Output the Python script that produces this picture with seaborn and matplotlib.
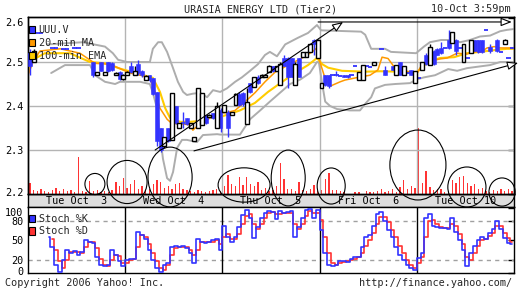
import numpy as np
import pandas as pd
import matplotlib
matplotlib.use("Agg")
import matplotlib.pyplot as plt
import matplotlib.transforms as mtransforms
import seaborn as sns
from matplotlib.patches import Ellipse, Patch

nan = np.nan

# ---------------- data (15-min bars, 26 per session) ----------------
days = ["Tue Oct  3", "Wed Oct  4", "Thu Oct  5", "Fri Oct  6", "Tue Oct 10"]
bars_per_day = 26

open_ = [2.520, 2.500, 2.565, 2.565, nan, nan, 2.532, 2.532, nan, 2.530, 2.530, nan, 2.532, 2.532, nan, nan,
         nan, 2.500, 2.470, 2.500, 2.470, 2.500, 2.497, 2.470, 2.477, 2.462,
         2.470, 2.490, 2.470, 2.495, 2.480, 2.460, 2.470, 2.464, 2.432, 2.350, 2.310, 2.350, 2.323, 2.400, 2.350, 2.362,
         2.373, 2.350, 2.320, 2.350, 2.357, 2.380, 2.375, 2.385, 2.350, 2.390,
         2.386, 2.386, 2.380, 2.402, 2.428, 2.430, 2.360, 2.452, 2.443, 2.466, 2.465, 2.465, 2.477, 2.490, 2.480, 2.448,
         2.510, 2.510, 2.510, 2.448, 2.510, 2.511, 2.512, 2.523, 2.550, 2.510,
         2.440, 2.470, 2.470, 2.470, 2.470, 2.468, 2.470, 2.470, 2.470, 2.490, 2.460, 2.460, 2.490, 2.489, 2.493, nan,
         2.530, 2.482, nan, 2.490, 2.470, 2.500, 2.470, 2.475, 2.482, 2.452,
         2.463, 2.482, 2.515, 2.493, 2.525, 2.530, 2.532, 2.532, 2.550, 2.543, 2.550, 2.532, 2.500, 2.510, 2.520, 2.550,
         2.550, 2.550, 2.573, 2.535, nan, 2.550, 2.522, 2.541, 2.510, 2.532]
high = [2.530, 2.530, 2.565, 2.565, nan, nan, 2.532, 2.532, nan, 2.530, 2.530, nan, 2.532, 2.532, nan, nan,
        nan, 2.500, 2.478, 2.500, 2.478, 2.500, 2.500, 2.477, 2.480, 2.472,
        2.480, 2.500, 2.490, 2.505, 2.482, 2.470, 2.470, 2.464, 2.432, 2.350, 2.330, 2.350, 2.430, 2.400, 2.362, 2.386,
        2.373, 2.362, 2.330, 2.440, 2.430, 2.380, 2.382, 2.385, 2.410, 2.395,
        2.402, 2.390, 2.386, 2.430, 2.432, 2.432, 2.440, 2.452, 2.466, 2.470, 2.472, 2.472, 2.493, 2.492, 2.492, 2.500,
        2.515, 2.512, 2.510, 2.500, 2.510, 2.523, 2.523, 2.540, 2.552, 2.552,
        2.452, 2.470, 2.470, 2.470, 2.480, 2.468, 2.470, 2.470, 2.470, 2.490, 2.477, 2.493, 2.490, 2.489, 2.500, nan,
        2.530, 2.490, nan, 2.492, 2.493, 2.500, 2.490, 2.475, 2.482, 2.480,
        2.463, 2.500, 2.520, 2.540, 2.528, 2.532, 2.545, 2.532, 2.573, 2.568, 2.552, 2.532, 2.540, 2.510, 2.550, 2.550,
        2.550, 2.550, 2.573, 2.540, nan, 2.552, 2.522, 2.552, 2.510, 2.532]
low = [2.470, 2.500, 2.565, 2.565, nan, nan, 2.532, 2.532, nan, 2.530, 2.530, nan, 2.532, 2.532, nan, nan,
       nan, 2.465, 2.470, 2.480, 2.470, 2.478, 2.480, 2.470, 2.460, 2.460,
       2.470, 2.475, 2.470, 2.470, 2.465, 2.460, 2.455, 2.425, 2.310, 2.295, 2.305, 2.318, 2.323, 2.360, 2.350, 2.350,
       2.357, 2.350, 2.320, 2.350, 2.357, 2.360, 2.375, 2.370, 2.350, 2.340,
       2.386, 2.330, 2.380, 2.402, 2.400, 2.400, 2.360, 2.430, 2.443, 2.450, 2.465, 2.465, 2.477, 2.478, 2.480, 2.448,
       2.490, 2.440, 2.465, 2.448, 2.465, 2.511, 2.512, 2.523, 2.515, 2.510,
       2.440, 2.445, 2.440, 2.470, 2.468, 2.468, 2.465, 2.463, 2.470, 2.490, 2.460, 2.460, 2.490, 2.489, 2.493, nan,
       2.530, 2.470, nan, 2.482, 2.470, 2.470, 2.470, 2.475, 2.470, 2.452,
       2.463, 2.482, 2.493, 2.493, 2.493, 2.515, 2.518, 2.532, 2.530, 2.543, 2.515, 2.532, 2.500, 2.510, 2.520, 2.524,
       2.520, 2.520, 2.573, 2.520, nan, 2.522, 2.522, 2.541, 2.510, 2.532]
close = [2.490, 2.525, 2.565, 2.565, nan, nan, 2.532, 2.532, nan, 2.530, 2.530, nan, 2.532, 2.532, nan, nan,
         nan, 2.470, 2.477, 2.480, 2.477, 2.480, 2.482, 2.476, 2.462, 2.470,
         2.478, 2.478, 2.480, 2.475, 2.470, 2.468, 2.458, 2.428, 2.320, 2.300, 2.330, 2.320, 2.430, 2.362, 2.361, 2.362,
         2.358, 2.361, 2.330, 2.440, 2.430, 2.362, 2.380, 2.372, 2.400, 2.350,
         2.402, 2.350, 2.386, 2.428, 2.402, 2.405, 2.410, 2.432, 2.466, 2.452, 2.470, 2.470, 2.492, 2.480, 2.490, 2.495,
         2.492, 2.465, 2.466, 2.495, 2.466, 2.522, 2.522, 2.540, 2.540, 2.550,
         2.452, 2.448, 2.445, 2.470, 2.470, 2.468, 2.466, 2.465, 2.470, 2.490, 2.477, 2.493, 2.490, 2.489, 2.500, nan,
         2.530, 2.470, nan, 2.482, 2.493, 2.470, 2.490, 2.475, 2.470, 2.480,
         2.463, 2.500, 2.495, 2.535, 2.495, 2.516, 2.520, 2.532, 2.532, 2.568, 2.524, 2.532, 2.540, 2.510, 2.550, 2.525,
         2.522, 2.522, 2.573, 2.525, nan, 2.524, 2.522, 2.550, 2.510, 2.532]
volume = [11, 4, 3, 5, 3, 2, 4, 6, 3, 5, 3, 4, 2, 37, 3, 2, 13, 3, 4, 2, 3, 2, 4, 12, 8, 16,
          6, 10, 14, 5, 8, 4, 5, 10, 14, 12, 6, 8, 5, 10, 11, 5, 4, 3, 2, 4, 3, 2, 3, 4, 5, 3,
          8, 19, 10, 8, 17, 9, 17, 10, 8, 12, 4, 6, 3, 4, 8, 31, 15, 5, 5, 3, 12, 4, 3, 5, 9, 3,
          4, 15, 21, 4, 4, 3, 2, 0, 0, 2, 2, 0, 3, 2, 2, 3, 5, 2, 3, 5, 2, 7, 14, 5, 8, 6,
          66, 11, 23, 7, 4, 5, 5, 2, 3, 14, 11, 17, 18, 11, 8, 10, 5, 6, 3, 2, 4, 3, 5, 3, 5, 3]

ma_x = [0, 1.3, 3.2, 8.6, 13.9, 17.9, 21.9, 24.6, 27.3, 30.0, 32.6, 34.0, 35.3, 37.2, 38.5, 40.7, 43.3, 44.1, 46.0,
        47.9, 49.5, 51.4, 53.2, 55.4, 58.1, 60.7, 63.4, 66.1, 69.6, 73.3, 76.0, 77.3, 78.1, 79.2, 80.8, 83.5, 84.8,
        88.8, 91.5, 93.6, 94.7, 96.3, 98.2, 100.1, 102.2, 103.8, 105.1, 106.7, 108.6, 110.2, 112.1, 114.8, 117.4,
        119.3, 121.2, 122.8, 124.7, 126.3, 128.1, 130.0]
ma_y = [2.47, 2.50, 2.525, 2.53, 2.52, 2.497, 2.495, 2.485, 2.475, 2.47, 2.464, 2.432, 2.395, 2.37, 2.36, 2.36, 2.357,
        2.345, 2.36, 2.368, 2.38, 2.384, 2.385, 2.39, 2.41, 2.43, 2.455, 2.477, 2.493, 2.509, 2.523, 2.532, 2.50, 2.47,
        2.445, 2.455, 2.459, 2.466, 2.47, 2.482, 2.511, 2.508, 2.486, 2.48, 2.478, 2.47, 2.49, 2.504, 2.504, 2.507,
        2.509, 2.52, 2.518, 2.523, 2.523, 2.532, 2.535, 2.532, 2.532, 2.532]
ema_x = [0, 1.3, 4.5, 11.2, 16.6, 20.6, 24.6, 30.0, 33.4, 35.3, 36.7, 38.0, 40.7, 43.3, 46.0, 48.7, 51.4, 53.2, 56.7,
         60.7, 64.2, 68.0, 71.4, 74.9, 77.3, 78.7, 80.3, 84.0, 90.2, 94.2, 99.5, 103.8, 107.0, 110.2, 114.0, 117.4,
         120.9, 124.7, 128.1, 130.0]
ema_y = [2.475, 2.505, 2.52, 2.52, 2.50, 2.497, 2.485, 2.472, 2.464, 2.432, 2.395, 2.373, 2.364, 2.364, 2.366, 2.373,
         2.375, 2.38, 2.39, 2.407, 2.432, 2.455, 2.475, 2.493, 2.509, 2.495, 2.487, 2.48, 2.478, 2.479, 2.478, 2.475,
         2.50, 2.509, 2.511, 2.52, 2.523, 2.527, 2.53, 2.53]
up_x = [5.1, 14.7, 20.6, 22.7, 24.1, 26.5, 32.6, 33.4, 34.8, 35.8, 37.2, 38.8, 40.1, 41.5, 42.5, 44.1, 46.0, 47.9,
        49.5, 51.4, 53.2, 55.4, 57.2, 59.4, 61.5, 63.4, 64.7, 66.6, 68.8, 72.2, 74.9, 77.3, 78.4, 89.1, 90.2, 91.8,
        95.5, 97.1, 103.8, 105.9, 107.5, 110.5, 112.9, 115.6, 118.2, 120.9, 123.6, 126.3, 128.1, 130.0]
up_y = [2.54, 2.545, 2.535, 2.52, 2.505, 2.50, 2.50, 2.53, 2.545, 2.545, 2.523, 2.486, 2.455, 2.432, 2.425, 2.428,
        2.43, 2.42, 2.436, 2.432, 2.44, 2.455, 2.465, 2.48, 2.495, 2.516, 2.523, 2.513, 2.54, 2.555, 2.566, 2.584,
        2.572, 2.569, 2.562, 2.53, 2.53, 2.523, 2.52, 2.535, 2.545, 2.55, 2.55, 2.545, 2.55, 2.558, 2.56, 2.57,
        2.573, 2.575]
lo_x = [6.2, 9.9, 16.6, 17.9, 20.6, 23.3, 24.6, 30.0, 32.6, 33.4, 34.5, 35.3, 36.1, 37.2, 38.0, 38.8, 39.9, 41.2,
        42.5, 45.2, 46.8, 50.6, 51.4, 56.7, 59.4, 62.1, 64.7, 67.4, 70.1, 72.8, 75.4, 77.3, 77.8, 78.7, 79.5, 80.8,
        82.7, 86.1, 88.8, 90.2, 91.8, 92.8, 95.5, 98.2, 102.2, 103.8, 105.9, 108.9, 112.4, 114.8, 117.4, 120.9,
        123.6, 126.3, 130.0]
lo_y = [2.475, 2.493, 2.493, 2.47, 2.455, 2.45, 2.455, 2.455, 2.45, 2.43, 2.395, 2.334, 2.28, 2.236, 2.23, 2.25,
        2.305, 2.323, 2.323, 2.318, 2.334, 2.336, 2.335, 2.335, 2.37, 2.39, 2.41, 2.43, 2.45, 2.46, 2.475, 2.50,
        2.50, 2.45, 2.41, 2.40, 2.393, 2.39, 2.39, 2.405, 2.42, 2.44, 2.448, 2.45, 2.452, 2.46, 2.465, 2.47, 2.484,
        2.48, 2.486, 2.49, 2.493, 2.50, 2.50]

stoch_k = [nan, nan, nan, nan, nan, 56, 40, 12, 2, 20, 35, 30, 34, 28, 33, 51, 48, 46, 25, 12, 10, 12, 35, 28, 18, 10,
           20, 22, 22, 63, 58, 52, 35, 20, 8, 2, 12, 15, 40, 42, 40, 42, 38, 30, 16, 53, 48, 46, 48, 50, 52, 35,
           72, 55, 48, 55, 70, 89, 97, 85, 54, 70, 85, 92, 96, 94, 83, 95, 92, 94, 95, 56, 71, 85, 97, 99, 85, 97,
           66, 30, 12, 10, 12, 18, 18, 17, 22, 25, 25, 40, 56, 58, 73, 90, 94, 80, 66, 56, 40, 28, 20, 12, 7, 5,
           23, 30, 84, 90, 72, 70, 69, 69, 68, 85, 63, 50, 36, 10, 30, 42, 51, 56, 52, 62, 67, 80, 67, 54, 46, 44]
stoch_d = [nan, nan, nan, nan, nan, nan, 52, 35, 18, 8, 20, 32, 32, 32, 30, 40, 48, 48, 38, 22, 12, 11, 20, 28, 26, 15,
           16, 20, 22, 40, 58, 56, 45, 30, 18, 8, 5, 12, 28, 38, 40, 40, 40, 36, 28, 35, 48, 48, 47, 48, 50, 45,
           55, 60, 52, 52, 60, 75, 88, 90, 75, 68, 75, 85, 92, 94, 90, 90, 92, 93, 92, 75, 68, 75, 88, 95, 92, 92,
           82, 55, 30, 15, 12, 15, 17, 18, 20, 22, 24, 30, 42, 50, 62, 75, 86, 86, 78, 66, 55, 42, 30, 20, 12, 8,
           15, 25, 55, 80, 82, 75, 70, 69, 69, 75, 72, 60, 45, 25, 20, 30, 42, 50, 52, 57, 62, 72, 72, 62, 54, 48]

# hand-drawn annotations (bar index, price)
ellipses = [(17.9, 2.2227, 5.35, 0.048), (26.5, 2.2273, 10.7, 0.098), (38.0, 2.2386, 11.8, 0.136),
            (57.8, 2.2205, 13.9, 0.078), (69.6, 2.2364, 9.1, 0.127), (81.1, 2.2182, 7.5, 0.082),
            (104.3, 2.2659, 15.0, 0.159), (117.4, 2.2159, 10.2, 0.091), (126.8, 2.2045, 7.0, 0.064)]
arrows = [((34.0, 2.300), (84.3, 2.591)), ((44.4, 2.298), (131.1, 2.498)), ((77.6, 2.591), (129.4, 2.591))]

# ---------------- style ----------------
sns.set_theme(style="white")
plt.rcParams["font.family"] = ["DejaVu Sans Mono"]
plt.rcParams["font.size"] = 7.3
plt.rcParams["axes.edgecolor"] = "black"
plt.rcParams["axes.linewidth"] = 1.0

BLUE = "#3333ff"
RED = "#ff3333"
ORANGE = "#ff9900"
YELLOW = "#ffcc00"
GRAY = "#adadad"
GRID = "#b4b4b4"

W, H = 526, 293
fig = plt.figure(figsize=(W / 100, H / 100), dpi=100)
fig.patch.set_facecolor("white")


def box(x0, y0, x1, y1):
    return [x0 / W, 1 - y1 / H, (x1 - x0) / W, (y1 - y0) / H]


def nudge(label, dy_px):
    label.set_transform(label.get_transform() +
                        mtransforms.ScaledTranslation(0, dy_px / 100, fig.dpi_scale_trans))


n = len(close)
xs = np.arange(n) + 0.5
o = np.array(open_, float)
hi = np.array(high, float)
lo = np.array(low, float)
c = np.array(close, float)
bounds = [bars_per_day * k for k in range(1, len(days))]

# main panel
ax_vol = fig.add_axes(box(28, 17, 514, 194))
ax = fig.add_axes(box(28, 17, 514, 194), sharex=ax_vol)
ax_vol.set_zorder(1)
ax.set_zorder(3)
ax.patch.set_visible(False)

ax_vol.bar(xs, volume, width=0.35, color=RED, linewidth=0)
ax_vol.set_ylim(0, 177)
ax_vol.set_xlim(0, n)
ax_vol.set_yticks([])
ax_vol.tick_params(bottom=False, labelbottom=False)

for yv in [2.3, 2.4, 2.5]:
    ax.axhline(yv, color=GRID, lw=1, zorder=1)
for b in bounds:
    ax.axvline(b, color=GRID, lw=1, zorder=1)

sns.lineplot(x=up_x, y=up_y, ax=ax, color=GRAY, lw=1.4, zorder=2)
sns.lineplot(x=lo_x, y=lo_y, ax=ax, color=GRAY, lw=1.4, zorder=2)
sns.lineplot(x=ema_x, y=ema_y, ax=ax, color=YELLOW, lw=1.5, zorder=2.2)
sns.lineplot(x=ma_x, y=ma_y, ax=ax, color=ORANGE, lw=1.1, zorder=2.3)

down = c < o
upm = c > o
doji = c == o
ax.vlines(xs[down], lo[down], hi[down], color=BLUE, lw=1, zorder=3)
ax.vlines(xs[upm], lo[upm], hi[upm], color="black", lw=1, zorder=3)
ax.bar(xs[down], (o - c)[down], bottom=c[down], width=1.05, color=BLUE, edgecolor=BLUE, lw=0.4, zorder=4)
ax.bar(xs[upm], (c - o)[upm], bottom=o[upm], width=1.05, facecolor="white", edgecolor="black", lw=1.0, zorder=5)
dw = doji & (hi > lo)
ax.vlines(xs[dw], lo[dw], hi[dw], color=BLUE, lw=1, zorder=3)
ax.hlines(c[doji], xs[doji] - 0.6, xs[doji] + 0.6, color=BLUE, lw=1.3, zorder=4)

ax.set_xlim(0, n)
ax.set_ylim(2.2, 2.6023)
ax.set_yticks([2.2, 2.3, 2.4, 2.5, 2.6])
ax.set_yticklabels(["2.2", "2.3", "2.4", "2.5", "2.6"])
ax.set_xticks([])
ax.set_xlabel("")
ax.set_ylabel("")
ax.tick_params(axis="y", left=False, right=True, direction="in", length=4, width=1, pad=3.5,
               labelsize=7.3, colors="black")
for s in ax.spines.values():
    s.set_visible(True)
    s.set_color("black")
nudge(ax.get_yticklabels()[-1], -4)
nudge(ax.get_yticklabels()[0], 2)

for (cx, cy, w, h) in ellipses:
    ax.add_patch(Ellipse((cx, cy), w, h, fill=False, ec="black", lw=0.8, clip_on=False, zorder=8))
for (p0, p1) in arrows:
    ax.annotate("", xy=p1, xytext=p0, annotation_clip=False,
                arrowprops=dict(arrowstyle="-|>,head_length=0.9,head_width=0.35", fc="white", ec="black",
                                lw=0.8, shrinkA=0, shrinkB=0), zorder=8)

leg = ax.legend(handles=[Patch(fc=BLUE, ec="black", lw=0.8), Patch(fc=ORANGE, ec="black", lw=0.8),
                         Patch(fc=YELLOW, ec="black", lw=0.8)],
                labels=["UUU.V", "20-min MA", "100-min EMA"], loc="upper left",
                bbox_to_anchor=(0.003, 0.955), frameon=False, handlelength=0.55, handleheight=0.75,
                handletextpad=0.35, labelspacing=0.3, borderpad=0, borderaxespad=0, fontsize=7.3)
leg.set_zorder(9)

# date band
ax_band = fig.add_axes(box(28, 194, 514, 207))
ax_band.set_zorder(0)
ax_band.set_facecolor("#dedede")
ax_band.set_xlim(0, n)
ax_band.set_ylim(0, 1)
ax_band.set_xticks([])
ax_band.set_yticks([])
for s in ax_band.spines.values():
    s.set_color("black")
    s.set_linewidth(1)
for k, d in enumerate(days):
    ax_band.text(bars_per_day * (k + 0.5), 0.45, d, ha="center", va="center", fontsize=7.3, color="black")

# stochastic panel
ax_st = fig.add_axes(box(28, 207, 514, 273))
ax_st.set_zorder(0)
for yv in [20, 80]:
    ax_st.axhline(yv, color="#a0a0a0", lw=1, ls=(0, (3, 3)), zorder=1)
for b in bounds:
    ax_st.axvline(b, color="black", lw=1, zorder=1)
sns.lineplot(x=xs, y=stoch_d, ax=ax_st, color=RED, lw=1.2, drawstyle="steps-mid", zorder=3)
sns.lineplot(x=xs, y=stoch_k, ax=ax_st, color=BLUE, lw=1.2, drawstyle="steps-mid", zorder=4)
ax_st.set_xlim(0, n)
ax_st.set_ylim(0, 101.5)
ax_st.set_yticks([0, 20, 50, 80, 100])
ax_st.set_yticklabels(["0", "20", "50", "80", "100"])
ax_st.set_xticks([])
ax_st.set_xlabel("")
ax_st.set_ylabel("")
ax_st.tick_params(axis="y", left=False, right=True, direction="in", length=4, width=1, pad=3.5,
                  labelsize=7.3, colors="black")
for s in ax_st.spines.values():
    s.set_color("black")
nudge(ax_st.get_yticklabels()[-1], -4)
nudge(ax_st.get_yticklabels()[0], 2)
ax_st.legend(handles=[Patch(fc=BLUE, ec="black", lw=0.8), Patch(fc=RED, ec="black", lw=0.8)],
             labels=["Stoch %K", "Stoch %D"], loc="upper left", bbox_to_anchor=(0.003, 0.89),
             frameon=False, handlelength=0.55, handleheight=0.75, handletextpad=0.35, labelspacing=0.22,
             borderpad=0, borderaxespad=0, fontsize=7.3)

# texts
fig.text(261 / W, 1 - 9 / H, "URASIA ENERGY LTD (Tier2)", ha="center", va="center", fontsize=7.3)
fig.text(511 / W, 1 - 9 / H, "10-Oct 3:59pm", ha="right", va="center", fontsize=7.3)
fig.text(5 / W, 1 - 283 / H, "Copyright 2006 Yahoo! Inc.", ha="left", va="center", fontsize=7.3)
fig.text(512 / W, 1 - 283 / H, "http://finance.yahoo.com/", ha="right", va="center", fontsize=7.3)

fig.savefig("out.png", dpi=100, facecolor="white")
